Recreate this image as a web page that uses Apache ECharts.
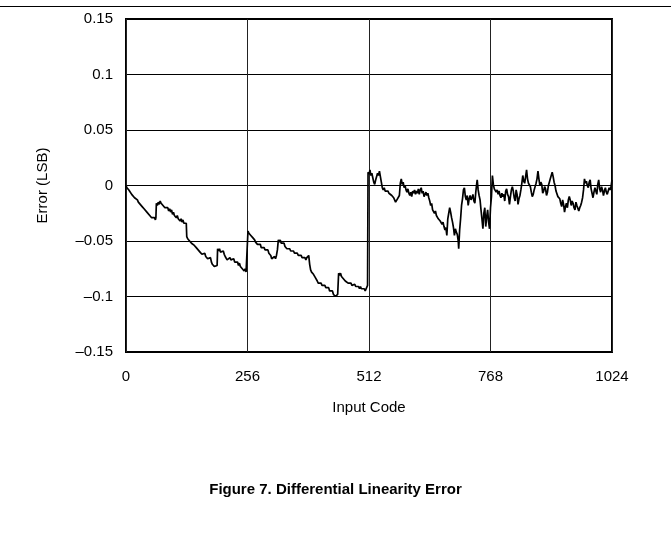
<!DOCTYPE html>
<html>
<head>
<meta charset="utf-8">
<script src="https://cdn.jsdelivr.net/npm/echarts@6/dist/echarts.min.js"></script>
<style>
  html, body { margin: 0; padding: 0; background: #fff; }
  #chart { width: 671px; height: 540px; }
</style>
</head>
<body>
<div id="chart"></div>
<script>
// [input code, DNL error in LSB]
const dnlPoints = [
  [0, 0.000], [2, -0.002], [4, -0.001], [6, -0.004], [8, -0.005], [10, -0.004], [12, -0.008], [14, -0.009], [16, -0.008], [18, -0.011],
  [20, -0.012], [22, -0.011], [24, -0.013], [26, -0.015], [28, -0.014], [30, -0.017], [32, -0.016], [34, -0.019], [36, -0.018], [38, -0.021],
  [40, -0.022], [42, -0.021], [44, -0.024], [46, -0.025], [48, -0.024], [50, -0.027], [52, -0.026], [54, -0.029], [56, -0.028], [58, -0.030],
  [60, -0.029], [62, -0.031], [63, -0.029],
  [64, -0.016], [66, -0.018], [68, -0.015], [70, -0.017], [72, -0.014], [74, -0.016], [76, -0.015], [78, -0.018], [80, -0.017], [82, -0.020],
  [84, -0.019], [86, -0.021], [88, -0.020], [90, -0.023], [92, -0.021], [94, -0.024], [96, -0.022], [98, -0.026], [100, -0.024], [102, -0.027],
  [104, -0.026], [106, -0.029], [108, -0.027], [110, -0.030], [112, -0.029], [114, -0.032], [116, -0.030], [118, -0.033], [120, -0.031], [122, -0.034],
  [124, -0.033], [126, -0.035], [127, -0.034],
  [128, -0.046], [130, -0.048], [132, -0.047], [134, -0.050], [136, -0.049], [138, -0.052], [140, -0.051], [142, -0.053], [144, -0.054], [146, -0.053],
  [148, -0.056], [150, -0.055], [152, -0.058], [154, -0.057], [156, -0.060], [158, -0.059], [160, -0.062], [162, -0.061], [164, -0.063], [166, -0.061],
  [168, -0.064], [170, -0.063], [172, -0.066], [174, -0.065], [176, -0.067], [178, -0.065], [180, -0.069], [182, -0.071], [184, -0.070], [186, -0.073],
  [188, -0.072], [190, -0.074], [192, -0.072],
  [193, -0.057], [195, -0.059], [197, -0.057], [199, -0.060], [201, -0.059], [203, -0.061], [205, -0.059], [207, -0.062], [209, -0.064], [211, -0.063],
  [213, -0.067], [215, -0.066], [217, -0.068], [219, -0.065], [221, -0.067], [223, -0.066], [225, -0.068], [227, -0.066], [229, -0.069], [231, -0.068],
  [233, -0.070], [235, -0.069], [237, -0.072], [239, -0.070], [241, -0.073], [243, -0.072], [245, -0.075], [247, -0.074], [249, -0.077], [251, -0.075],
  [253, -0.078], [255, -0.077],
  [257, -0.041], [259, -0.043], [261, -0.042], [263, -0.045], [265, -0.044], [267, -0.047], [269, -0.046], [271, -0.049], [273, -0.051], [275, -0.050],
  [277, -0.053], [279, -0.052], [281, -0.054], [283, -0.053], [285, -0.056], [287, -0.055], [289, -0.057], [291, -0.056], [293, -0.058], [295, -0.057],
  [297, -0.059], [299, -0.058], [301, -0.061], [303, -0.060], [305, -0.063], [307, -0.066], [309, -0.065], [311, -0.067], [313, -0.064], [315, -0.066],
  [317, -0.063], [319, -0.058],
  [321, -0.049], [323, -0.051], [325, -0.049], [327, -0.052], [329, -0.051], [331, -0.053], [333, -0.052], [335, -0.055], [337, -0.054], [339, -0.057],
  [341, -0.056], [343, -0.058], [345, -0.057], [347, -0.059], [349, -0.058], [351, -0.060], [353, -0.059], [355, -0.061], [357, -0.060], [359, -0.062],
  [361, -0.061], [363, -0.063], [365, -0.062], [367, -0.064], [369, -0.063], [371, -0.065], [373, -0.064], [375, -0.066], [377, -0.065], [379, -0.067],
  [381, -0.065], [383, -0.066], [385, -0.063],
  [387, -0.071], [389, -0.076], [391, -0.078], [393, -0.077], [395, -0.080], [397, -0.079], [399, -0.083], [401, -0.082], [403, -0.086], [405, -0.088],
  [407, -0.087], [409, -0.089], [411, -0.088], [413, -0.090], [415, -0.089], [417, -0.091], [419, -0.090], [421, -0.092], [423, -0.091], [425, -0.093],
  [427, -0.092], [429, -0.095], [431, -0.094], [433, -0.096], [435, -0.095], [437, -0.098], [439, -0.097], [441, -0.100], [443, -0.099], [445, -0.101],
  [446, -0.098],
  [448, -0.079], [450, -0.081], [452, -0.079], [454, -0.082], [456, -0.081], [458, -0.084], [460, -0.083], [462, -0.086], [464, -0.087], [466, -0.086],
  [468, -0.088], [470, -0.087], [472, -0.089], [474, -0.088], [476, -0.090], [478, -0.089], [480, -0.091], [482, -0.089], [484, -0.091], [486, -0.090],
  [488, -0.092], [490, -0.091], [492, -0.093], [494, -0.091], [496, -0.093], [498, -0.092], [500, -0.094], [502, -0.093], [504, -0.095], [506, -0.093],
  [508, -0.094], [509, -0.090],
  [510, 0.012], [512, 0.010], [514, 0.014], [516, 0.009], [518, 0.011], [520, 0.007], [522, 0.003], [524, 0.001], [526, 0.005], [528, 0.004],
  [530, 0.011], [532, 0.009], [534, 0.013], [536, 0.008], [538, 0.003], [540, -0.002], [542, -0.004], [544, -0.002], [546, -0.005], [548, -0.004],
  [550, -0.006], [552, -0.005], [554, -0.007], [556, -0.006], [558, -0.008], [560, -0.009], [562, -0.008], [564, -0.011], [566, -0.013], [568, -0.015],
  [570, -0.014], [572, -0.012], [574, -0.013], [576, -0.009], [578, 0.002], [580, 0.006], [582, 0.001], [584, 0.003], [586, -0.002], [588, 0.000],
  [590, -0.004], [592, -0.006], [594, -0.003], [596, -0.007], [598, -0.009], [600, -0.006], [602, -0.010], [604, -0.005], [606, -0.007], [608, -0.004],
  [610, -0.008], [612, -0.005], [614, -0.007], [616, -0.003], [618, -0.008], [620, -0.004], [622, -0.002], [624, -0.007], [626, -0.005], [628, -0.010],
  [630, -0.008], [632, -0.006], [634, -0.009], [636, -0.007], [638, -0.011], [640, -0.014], [642, -0.018], [644, -0.016], [646, -0.022], [648, -0.021],
  [650, -0.025], [652, -0.023], [654, -0.027], [656, -0.026], [658, -0.030], [660, -0.029], [662, -0.032], [664, -0.031], [666, -0.035], [668, -0.033],
  [670, -0.037], [672, -0.040], [674, -0.038], [676, -0.045], [678, -0.030], [680, -0.025], [682, -0.020], [684, -0.024], [686, -0.029], [688, -0.033],
  [690, -0.038], [692, -0.045], [694, -0.039], [696, -0.042], [698, -0.044], [700, -0.050], [701, -0.057], [703, -0.040], [705, -0.030], [707, -0.018],
  [709, -0.012], [711, -0.004], [713, -0.002], [715, -0.010], [717, -0.013], [719, -0.009], [721, -0.018], [723, -0.012], [725, -0.009], [727, -0.013],
  [729, -0.011], [731, -0.008], [733, -0.014], [735, -0.016], [737, -0.006], [739, 0.002], [740, 0.005], [742, -0.004], [744, -0.009], [746, -0.013],
  [748, -0.022], [750, -0.030], [752, -0.039], [754, -0.025], [756, -0.020], [758, -0.037], [760, -0.028], [762, -0.022], [764, -0.033], [766, -0.039],
  [768, -0.020], [770, -0.010], [772, 0.009], [774, 0.001], [776, -0.003], [778, -0.002], [780, -0.006], [782, -0.004], [784, -0.008], [786, -0.005],
  [788, -0.009], [790, -0.011], [792, -0.007], [794, -0.010], [796, -0.008], [798, -0.014], [800, -0.005], [802, -0.003], [804, -0.008], [806, -0.010],
  [808, -0.017], [810, -0.010], [812, -0.004], [814, -0.001], [816, -0.005], [818, -0.011], [820, -0.014], [822, -0.004], [824, -0.008], [826, -0.017],
  [828, -0.012], [830, -0.009], [832, -0.004], [834, 0.002], [836, 0.009], [838, 0.004], [840, 0.002], [842, 0.008], [844, 0.014], [846, 0.006],
  [848, 0.002], [850, 0.003], [852, -0.001], [854, -0.006], [856, -0.010], [858, -0.008], [860, -0.004], [862, -0.001], [864, 0.002], [866, 0.006],
  [868, 0.013], [870, 0.006], [872, 0.000], [874, 0.003], [876, 0.001], [878, -0.007], [880, -0.005], [882, -0.001], [884, -0.003], [886, -0.009],
  [888, -0.006], [890, 0.000], [892, 0.003], [894, 0.006], [896, 0.009], [898, 0.012], [900, 0.008], [902, 0.003], [904, 0.000], [906, -0.005],
  [908, -0.006], [910, -0.010], [912, -0.009], [914, -0.012], [916, -0.016], [918, -0.019], [920, -0.013], [922, -0.017], [924, -0.024], [926, -0.019],
  [928, -0.016], [930, -0.020], [932, -0.013], [934, -0.010], [936, -0.013], [938, -0.018], [940, -0.014], [942, -0.016], [944, -0.020], [946, -0.022],
  [948, -0.015], [950, -0.018], [952, -0.017], [954, -0.023], [956, -0.020], [958, -0.018], [960, -0.015], [962, -0.011], [964, -0.004], [966, 0.006],
  [968, 0.002], [970, 0.004], [972, 0.000], [974, -0.002], [976, 0.003], [978, 0.005], [980, -0.003], [982, -0.007], [984, -0.011], [986, -0.006],
  [988, -0.002], [990, -0.005], [992, -0.008], [994, 0.001], [996, 0.005], [998, -0.003], [1000, -0.006], [1002, -0.001], [1004, -0.004], [1006, -0.009],
  [1008, -0.005], [1010, -0.002], [1012, -0.006], [1014, -0.008], [1016, -0.005], [1018, -0.002], [1020, -0.004], [1022, -0.001], [1024, 0.005]
]

const xTicks = [0, 256, 512, 768, 1024]
const yRange = [-0.15, 0.15]

const FONT = '"Liberation Sans", Arial, sans-serif'

const chart = echarts.init(document.getElementById('chart'), null, { renderer: 'canvas' })

chart.setOption({
  animation: false,
  backgroundColor: '#fff',
  title: {
    text: 'Figure 7. Differential Linearity Error',
    left: 'center',
    top: 477,
    textStyle: { fontFamily: FONT, fontSize: 15, fontWeight: 'bold', color: '#000' },
  },
  graphic: [
    {
      type: 'line',
      shape: { x1: 0, y1: 6.5, x2: 671, y2: 6.5 },
      style: { stroke: '#000', lineWidth: 1.2 },
    },
  ],
  grid: {
    left: 126,
    right: 59,
    top: 19,
    bottom: 188,
    show: true,
    borderColor: '#000',
    borderWidth: 2,
    backgroundColor: 'transparent',
  },
  xAxis: {
    type: 'value',
    min: xTicks[0],
    max: xTicks[xTicks.length - 1],
    interval: 256,
    name: 'Input Code',
    nameLocation: 'middle',
    nameGap: 48,
    nameTextStyle: { fontFamily: FONT, fontSize: 15, color: '#000' },
    axisLine: { show: false },
    axisTick: { show: false },
    axisLabel: {
      fontFamily: FONT,
      fontSize: 15,
      color: '#000',
      margin: 17,
      formatter: (v) => String(v),
    },
    splitLine: { show: true, lineStyle: { color: '#222', width: 1 } },
  },
  yAxis: {
    type: 'value',
    min: yRange[0],
    max: yRange[1],
    interval: 0.05,
    name: 'Error (LSB)',
    nameLocation: 'middle',
    nameGap: 76,
    nameTextStyle: { fontFamily: FONT, fontSize: 15, color: '#000' },
    axisLine: { show: false },
    axisTick: { show: false },
    axisLabel: {
      fontFamily: FONT,
      fontSize: 15,
      color: '#000',
      margin: 13,
      formatter: (v) => String(Number(v.toFixed(2))).replace('-', '\u2013'),
    },
    splitLine: { show: true, lineStyle: { color: '#000', width: 1 } },
  },
  series: [
    {
      type: 'line',
      data: dnlPoints,
      showSymbol: false,
      lineStyle: { color: '#000', width: 1.7 },
    },
  ],
})
</script>
</body>
</html>
